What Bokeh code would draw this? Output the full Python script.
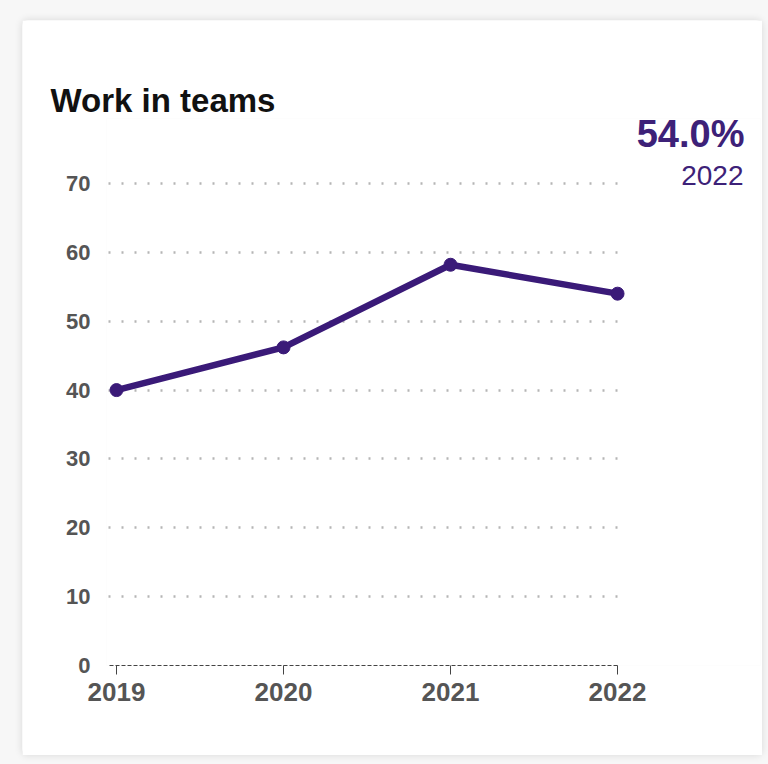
from bokeh.plotting import figure
from bokeh.models import Range1d, FixedTicker, Label, Column
from bokeh.embed import file_html
from bokeh.resources import INLINE

# ---- data ----
years = [2019, 2020, 2021, 2022]
values = [40.0, 46.2, 58.2, 54.0]
y_ticks = [0, 10, 20, 30, 40, 50, 60, 70]
title_text = "Work in teams"

LINE = "#3a1a78"
PURPLE = "#3d2178"
GRAY = "#555555"
FONT = "Liberation Sans"

p = figure(width=740, height=735, output_backend="svg", toolbar_location=None,
           x_range=Range1d(2018.940, 2022.856), y_range=Range1d(0, 79.44),
           min_border_left=84, min_border_right=2, min_border_top=98,
           min_border_bottom=90, background_fill_color="white",
           border_fill_color="white", outline_line_color=None)
p.margin = (20, 6, 9, 22)
p.styles = {"box-shadow": "0 0 7px 1px rgba(0,0,0,0.10)", "border-radius": "6px"}

# title
p.title.text = title_text
p.title.align = "left"
p.title.offset = -56
p.title.standoff = 0
p.title.text_font = FONT
p.title.text_font_size = "33px"
p.title.text_font_style = "bold"
p.title.text_color = "#111111"

# grid
p.xgrid.visible = False
p.ygrid.ticker = FixedTicker(ticks=[t for t in y_ticks if t != 0])
p.ygrid.grid_line_color = "#b5b5b5"
p.ygrid.grid_line_width = 2.5
p.ygrid.grid_line_dash = "2 11"
p.ygrid.cross_bounds = (2018.952, years[-1])

# x axis
xa = p.xaxis[0]
xa.ticker = FixedTicker(ticks=years)
xa.bounds = (2018.96, years[-1])
xa.axis_line_color = "#444444"
xa.axis_line_dash = "4 2"
xa.axis_line_width = 1.2
xa.major_tick_out = 9
xa.major_tick_in = 0
xa.major_tick_line_color = "#444444"
xa.minor_tick_line_color = None
xa.major_label_standoff = 8
xa.major_label_text_font = FONT
xa.major_label_text_font_size = "26px"
xa.major_label_text_font_style = "bold"
xa.major_label_text_color = GRAY

# y axis
ya = p.yaxis[0]
ya.ticker = FixedTicker(ticks=y_ticks)
ya.axis_line_color = None
ya.major_tick_line_color = None
ya.minor_tick_line_color = None
ya.major_label_standoff = 10
ya.major_label_text_font = FONT
ya.major_label_text_font_size = "22px"
ya.major_label_text_font_style = "bold"
ya.major_label_text_color = GRAY

# series
p.line(years, values, line_color=LINE, line_width=6.5, line_join="round")
p.scatter(years, values, size=13, fill_color=LINE, line_color=LINE)

# latest-value texts
p.add_layout(Label(x=2022.760, y=77.16, text=f"{values[-1]:.1f}%", text_font=FONT,
                   text_font_size="38px", text_font_style="bold",
                   text_color=PURPLE, text_align="right", text_baseline="middle"))
p.add_layout(Label(x=2022.754, y=71.13, text=str(years[-1]), text_font=FONT,
                   text_font_size="28px", text_color=PURPLE,
                   text_align="right", text_baseline="middle"))

layout = Column(p, width=768, height=764, styles={"background-color": "#f7f7f7"})
open("out.html", "w").write(file_html(layout, INLINE))
